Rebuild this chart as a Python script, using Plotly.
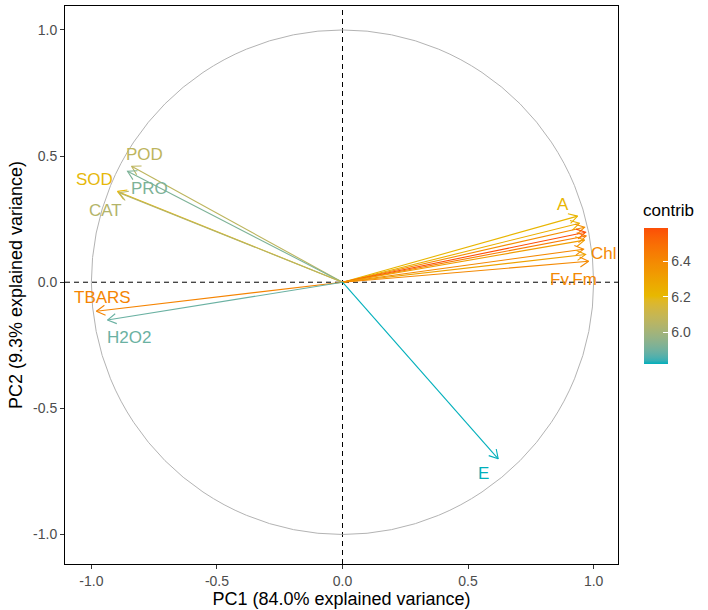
import math
import numpy as np
import plotly.graph_objects as go

# ---------------- data ----------------
variables = ["A", "gs", "Ci", "Pn", "Car", "qP", "Chl", "Chla", "Fv.Fm",
             "POD", "PRO", "SOD", "CAT", "TBARS", "H2O2", "E"]
pc1 = [0.936, 0.944, 0.964, 0.968, 0.970, 0.964, 0.960, 0.968, 0.980,
       -0.840, -0.856, -0.896, -0.890, -0.980, -0.936, 0.620]
pc2 = [0.262, 0.234, 0.218, 0.198, 0.183, 0.167, 0.131, 0.110, 0.083,
       0.460, 0.440, 0.360, 0.355, -0.115, -0.150, -0.700]
contrib = [6.22, 6.25, 6.38, 6.59, 6.45, 6.32, 6.40, 6.30, 6.40,
           6.07, 5.92, 6.20, 6.04, 6.42, 5.89, 5.82]
shown_labels = ["A", "Chl", "Fv.Fm", "POD", "PRO", "SOD", "CAT", "TBARS", "H2O2", "E"]
contrib_ticks = [6.0, 6.2, 6.4]
x_title = "PC1 (84.0% explained variance)"
y_title = "PC2 (9.3% explained variance)"
axis_ticks = [-1.0, -0.5, 0.0, 0.5, 1.0]

# ---------------- styling / layout ----------------
gradient = ["#00AFBB", "#E7B800", "#FC4E07"]
label_shift = {  # pixel offsets of labels from arrow tips
    "A": (-15, 12), "Chl": (20, -4), "Fv.Fm": (-15, -18), "POD": (13, 12),
    "PRO": (22, -17), "SOD": (-23, 12), "CAT": (-13, -18), "TBARS": (6, 14),
    "H2O2": (22, -17), "E": (-15, -15),
}
W, H = 708, 610
ML, MR, MT, MB = 65, 90, 6, 46
XR = [-1.105, 1.097]
YR = [-1.117, 1.095]
FONT = "Liberation Sans, Arial, sans-serif"

pw = W - ML - MR
ph = H - MT - MB
sx = pw / (XR[1] - XR[0])
sy = ph / (YR[1] - YR[0])


# Lab interpolation (like ggplot's gradientn)
def hex_to_rgb(h):
    h = h.lstrip("#")
    return [int(h[i:i + 2], 16) / 255 for i in (0, 2, 4)]


def to_lin(c):
    return c / 12.92 if c <= 0.04045 else ((c + 0.055) / 1.055) ** 2.4


def from_lin(c):
    v = 12.92 * c if c <= 0.0031308 else 1.055 * c ** (1 / 2.4) - 0.055
    return min(max(v, 0), 1)


WP = (0.95047, 1.0, 1.08883)


def rgb_to_lab(rgb):
    r, g, b = [to_lin(c) for c in rgb]
    X = 0.4124 * r + 0.3576 * g + 0.1805 * b
    Y = 0.2126 * r + 0.7152 * g + 0.0722 * b
    Z = 0.0193 * r + 0.1192 * g + 0.9505 * b

    def f(t):
        return t ** (1 / 3) if t > 216 / 24389 else (24389 / 27 * t + 16) / 116

    fx, fy, fz = f(X / WP[0]), f(Y / WP[1]), f(Z / WP[2])
    return [116 * fy - 16, 500 * (fx - fy), 200 * (fy - fz)]


def lab_to_rgb(lab):
    L, a, b = lab
    fy = (L + 16) / 116
    fx = fy + a / 500
    fz = fy - b / 200

    def finv(t):
        return t ** 3 if t ** 3 > 216 / 24389 else (116 * t - 16) / (24389 / 27)

    X, Y, Z = finv(fx) * WP[0], finv(fy) * WP[1], finv(fz) * WP[2]
    r = 3.2406 * X - 1.5372 * Y - 0.4986 * Z
    g = -0.9689 * X + 1.8758 * Y + 0.0415 * Z
    bb = 0.0557 * X - 0.2040 * Y + 1.0570 * Z
    return [from_lin(c) for c in (r, g, bb)]


labs = [rgb_to_lab(hex_to_rgb(c)) for c in gradient]


def color_at(t):
    t = min(max(t, 0), 1)
    seg = min(int(t * (len(labs) - 1)), len(labs) - 2)
    u = t * (len(labs) - 1) - seg
    lab = [labs[seg][k] + (labs[seg + 1][k] - labs[seg][k]) * u for k in range(3)]
    r, g, b = lab_to_rgb(lab)
    return "rgb(%d,%d,%d)" % (round(r * 255), round(g * 255), round(b * 255))


cmin, cmax = min(contrib), max(contrib)
colorscale = [[float(t), color_at(t)] for t in np.linspace(0, 1, 41)]

fig = go.Figure()

# arrows
AL = 10  # arrowhead length px
ANG = math.radians(30)
for name, x, y, c in zip(variables, pc1, pc2, contrib):
    col = color_at((c - cmin) / (cmax - cmin))
    th = math.atan2(y * sy, x * sx)
    wings = []
    for s in (1, -1):
        a = th + math.pi + s * ANG
        wings.append((x + AL * math.cos(a) / sx, y + AL * math.sin(a) / sy))
    xs = [0, x, None, wings[0][0], x, wings[1][0]]
    ys = [0, y, None, wings[0][1], y, wings[1][1]]
    fig.add_trace(go.Scatter(x=xs, y=ys, mode="lines",
                             line=dict(color=col, width=1.1),
                             hoverinfo="skip", showlegend=False))
    if name in shown_labels:
        dx, dy = label_shift[name]
        fig.add_annotation(x=x, y=y, text=name, showarrow=False,
                           xshift=dx, yshift=dy,
                           font=dict(family=FONT, size=17, color=col))

# colourbar carrier
fig.add_trace(go.Scatter(
    x=pc1, y=pc2, mode="markers",
    marker=dict(size=0.1, opacity=0, color=contrib, cmin=cmin, cmax=cmax,
                colorscale=colorscale, showscale=True,
                colorbar=dict(
                    thickness=24, len=136, lenmode="pixels",
                    x=(644 - ML) / pw, xanchor="left", xpad=0,
                    y=(H - MB - 296) / ph, yanchor="middle", ypad=0,
                    outlinewidth=0, ticks="inside", ticklen=5,
                    tickcolor="white", tickwidth=1,
                    tickvals=contrib_ticks, ticktext=["%.1f" % v for v in contrib_ticks],
                    tickfont=dict(family=FONT, size=14, color="#4D4D4D"),
                    title=dict(text=""))),
    hoverinfo="skip", showlegend=False))

fig.add_annotation(xref="paper", yref="paper",
                   x=(641 - ML) / pw, y=(H - MB - 211) / ph,
                   xanchor="left", yanchor="middle", showarrow=False,
                   text="contrib", font=dict(family=FONT, size=17, color="black"))

# circle and reference lines
fig.add_shape(type="circle", x0=-1, y0=-1, x1=1, y1=1,
              line=dict(color="#B3B3B3", width=1), layer="below")
fig.add_shape(type="line", xref="paper", x0=0, x1=1, y0=0, y1=0,
              line=dict(color="black", width=1, dash="5px,4px"), layer="below")
fig.add_shape(type="line", yref="paper", y0=0, y1=1, x0=0, x1=0,
              line=dict(color="black", width=1, dash="5px,4px"), layer="below")

axis_common = dict(showgrid=False, zeroline=False, showline=True, linecolor="black",
                   linewidth=1, mirror=True, ticks="outside", ticklen=4,
                   tickcolor="#333333", tickvals=axis_ticks,
                   ticktext=["%.1f" % v for v in axis_ticks],
                   tickfont=dict(family=FONT, size=14, color="#4D4D4D"))

fig.update_layout(
    width=W, height=H, plot_bgcolor="white", paper_bgcolor="white",
    margin=dict(l=ML, r=MR, t=MT, b=MB),
    xaxis=dict(range=XR, title=dict(text=x_title, standoff=0,
                                    font=dict(family=FONT, size=18, color="black")),
               **axis_common),
    yaxis=dict(range=YR, title=dict(text=y_title, standoff=5,
                                    font=dict(family=FONT, size=18, color="black")),
               **axis_common),
)

fig.write_html("out.html",
               config={"displayModeBar": False},
               post_script="document.body.style.margin='0px';"
                           "document.body.style.overflow='hidden';")
